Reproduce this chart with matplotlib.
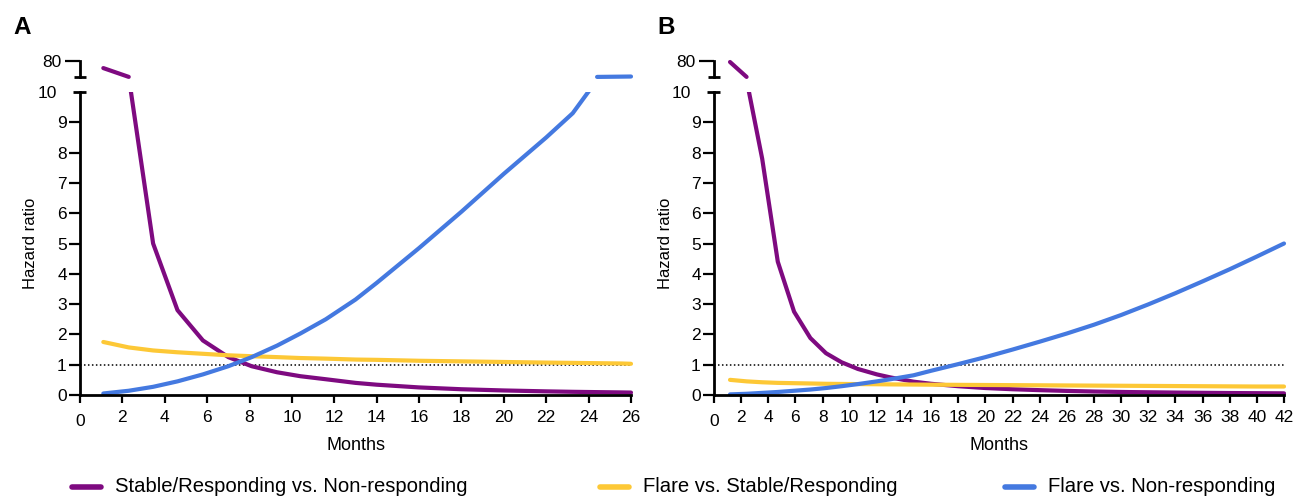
import numpy as np
import matplotlib
matplotlib.use("Agg")
import matplotlib.pyplot as plt
from matplotlib.lines import Line2D
from matplotlib.patches import Rectangle
from matplotlib.transforms import ScaledTranslation

plt.rcParams["font.family"] = ["Liberation Sans", "DejaVu Sans"]

# ---- data ----
series_names = ["Stable/Responding vs. Non-responding",
                "Flare vs. Stable/Responding",
                "Flare vs. Non-responding"]
series_colors = ["#7E0A80", "#FDC836", "#4479E0"]

# panel A (months 0-26)
a_months = [1.1, 2.3, 3.45, 4.6, 5.8, 7.0, 8.1, 9.3, 10.4, 11.6, 13, 14, 16, 18,
            20, 22, 23.25, 24.4, 25.55, 26]
a_stable_vs_nonresp = [49, 10.5, 5.0, 2.8, 1.8, 1.25, 0.95, 0.75, 0.62, 0.52, 0.4,
                       0.34, 0.25, 0.19, 0.15, 0.12, 0.105, 0.095, 0.085, 0.08]
a_flare_vs_stable = [1.75, 1.57, 1.47, 1.41, 1.36, 1.31, 1.28, 1.25, 1.22, 1.2, 1.17,
                     1.16, 1.13, 1.11, 1.09, 1.07, 1.06, 1.05, 1.04, 1.03]
a_flare_vs_nonresp = [0.05, 0.14, 0.27, 0.45, 0.68, 0.95, 1.25, 1.63, 2.03, 2.5, 3.15,
                      3.7, 4.85, 6.05, 7.3, 8.5, 9.3, 10.4, 11.6, 12.1]

# panel B (months 0-42)
b_months = [1.18, 2.4, 3.55, 4.7, 5.9, 7.1, 8.25, 9.4, 10.6, 12, 13, 14.7, 16, 18,
            20, 22, 24, 26, 28, 30, 32, 34, 36, 38, 40, 42]
b_stable_vs_nonresp = [75.6, 10.4, 7.8, 4.4, 2.75, 1.88, 1.38, 1.08, 0.86, 0.68, 0.58,
                       0.44, 0.37, 0.29, 0.23, 0.19, 0.16, 0.135, 0.115, 0.1, 0.09,
                       0.08, 0.072, 0.065, 0.06, 0.055]
b_flare_vs_stable = [0.5, 0.45, 0.42, 0.4, 0.39, 0.38, 0.37, 0.365, 0.36, 0.355, 0.35,
                     0.345, 0.34, 0.335, 0.33, 0.325, 0.32, 0.315, 0.31, 0.305, 0.3,
                     0.295, 0.29, 0.285, 0.28, 0.28]
b_flare_vs_nonresp = [0.02, 0.04, 0.07, 0.1, 0.14, 0.18, 0.23, 0.29, 0.36, 0.45, 0.52,
                      0.65, 0.8, 1.02, 1.25, 1.5, 1.76, 2.03, 2.32, 2.64, 2.99, 3.36,
                      3.75, 4.15, 4.57, 5.0]

a_xticks = list(range(0, 27, 2))
b_xticks = list(range(0, 43, 2))
low_yticks = list(range(0, 11))
top_ytick = 80

W, H = 1296, 497
fig = plt.figure(figsize=(W / 100, H / 100), dpi=100)


def rect(l, t, r, b):
    return [l / W, 1 - b / H, (r - l) / W, (b - t) / H]


def hline_px(x0, x1, y, lw=2.0):
    fig.add_artist(Line2D([x0 / W, x1 / W], [1 - y / H, 1 - y / H],
                          transform=fig.transFigure, color="black", lw=lw,
                          solid_capstyle="butt"))


def shift(label, dx_px, dy_px):
    label.set_transform(label.get_transform()
                        + ScaledTranslation(dx_px / 100, dy_px / 100, fig.dpi_scale_trans))


def draw_panel(left, right, months, curves, xticks, letter, letter_x, ylabel_x):
    ax = fig.add_axes(rect(left, 92, right, 395))
    ax_top = fig.add_axes(rect(left, 61, right, 77), sharex=ax)

    x = np.array(months)
    for vals, color in zip(curves, series_colors):
        y = np.array(vals)
        ln, = ax.plot(x, y, color=color, lw=3, solid_capstyle="round",
                      solid_joinstyle="round")
        ln.set_clip_path(Rectangle((-0.02, -0.03), 1.04, 1.03, transform=ax.transAxes))
        keep = y >= 10
        if keep.sum() >= 2:
            ax_top.plot(x[keep], y[keep], color=color, lw=3, clip_on=False,
                        solid_capstyle="round")

    ax.axhline(1, color="black", lw=1.1, ls=(0, (1, 1.6)), zorder=1)

    ax.set_xlim(0, xticks[-1])
    ax.set_ylim(0, 10)
    ax.set_xticks(xticks)
    ax.set_yticks(low_yticks)
    for s in ["top", "right"]:
        ax.spines[s].set_visible(False)
    for s in ["left", "bottom"]:
        ax.spines[s].set_linewidth(2.0)
    ax.tick_params(axis="x", length=5.5, width=1.6, labelsize=12.5, pad=5)
    ax.tick_params(axis="y", length=8, width=1.6, labelsize=12.5, pad=1.5)
    # the 0 on the x axis sits a little lower
    shift(ax.get_xticklabels()[0], 0, -4)
    # the 10 tick is drawn as a break cap, its label sits further left
    ax.yaxis.get_major_ticks()[-1].tick1line.set_visible(False)
    shift(ax.get_yticklabels()[-1], -10, 0)

    ax.set_xlabel("Months", fontsize=13)
    ax.xaxis.set_label_coords(0.5, -0.139)
    ax.set_ylabel("Hazard ratio", fontsize=12)
    ax.yaxis.set_label_coords((ylabel_x - left) / (right - left), 0.5)

    ax_top.set_ylim(10, 80)
    ax_top.set_yticks([top_ytick])
    ax_top.tick_params(axis="y", length=11, width=1.6, labelsize=12.5, pad=2)
    ax_top.tick_params(axis="x", bottom=False, labelbottom=False)
    for s in ["top", "right", "bottom"]:
        ax_top.spines[s].set_visible(False)
    ax_top.spines["left"].set_linewidth(2.0)
    ax_top.patch.set_visible(False)

    # axis break caps
    hline_px(left - 6, left + 6, 77)
    hline_px(left - 7, left + 6, 92)

    fig.text(letter_x / W, 1 - 27 / H, letter, fontsize=17.5, fontweight="bold",
             ha="center", va="center")


draw_panel(80, 631, a_months,
           [a_stable_vs_nonresp, a_flare_vs_stable, a_flare_vs_nonresp], a_xticks,
           "A", 22, 38)
draw_panel(714, 1284, b_months,
           [b_stable_vs_nonresp, b_flare_vs_stable, b_flare_vs_nonresp], b_xticks,
           "B", 666, 673)

# legend along the bottom
legend_x = [72, 600, 1005]
for name, color, x0 in zip(series_names, series_colors, legend_x):
    fig.add_artist(Line2D([x0 / W, (x0 + 29) / W], [1 - 487 / H] * 2,
                          transform=fig.transFigure, color=color, lw=4,
                          solid_capstyle="round"))
    fig.text((x0 + 43) / W, 1 - 487 / H, name, fontsize=14.6, ha="left", va="center")

fig.savefig("out.png", dpi=100)
